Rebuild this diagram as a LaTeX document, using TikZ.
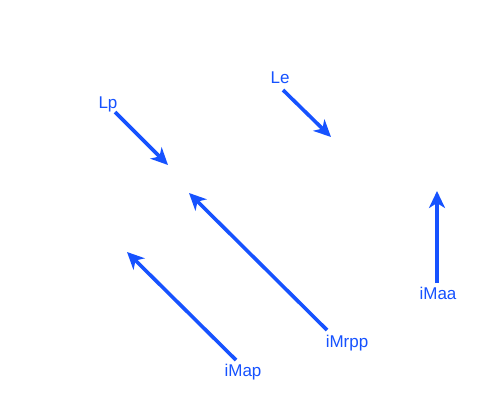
\documentclass[tikz,border=0pt]{standalone}
\usepackage{fontspec}
\setmainfont{Liberation Sans}
\usetikzlibrary{arrows.meta}
\definecolor{vblue}{RGB}{22,82,255}
\begin{document}
\begin{tikzpicture}[x=1pt,y=-1pt,
  lab/.style={text=vblue,font=\fontsize{17}{19}\selectfont,inner sep=0pt},
  vec/.style={draw=vblue,line width=3.6pt,-{Stealth[length=17pt,width=16pt,inset=5pt]}}]
\useasboundingbox[fill=white] (0,0) rectangle (500,400);
\node[lab] (lp) at (108,104) {Lp};
\node[lab] (le) at (280,78) {Le};
\node[lab] (imaa) at (438,293) {iMaa};
\node[lab] (imrpp) at (347,343) {iMrpp};
\node[lab] (imap) at (243,372) {iMap};
\coordinate (lps) at (115,112); \coordinate (lpe) at (168,165);
\coordinate (les) at (283,90); \coordinate (lee) at (331,137);
\coordinate (imaas) at (437,283); \coordinate (imaae) at (437,191);
\coordinate (imrpps) at (327,330); \coordinate (imrppe) at (189,193);
\coordinate (imaps) at (236,360); \coordinate (imape) at (127,252);
\draw[vec] (lps) -- (lpe);
\draw[vec] (les) -- (lee);
\draw[vec] (imaas) -- (imaae);
\draw[vec] (imrpps) -- (imrppe);
\draw[vec] (imaps) -- (imape);
\end{tikzpicture}
\end{document}
